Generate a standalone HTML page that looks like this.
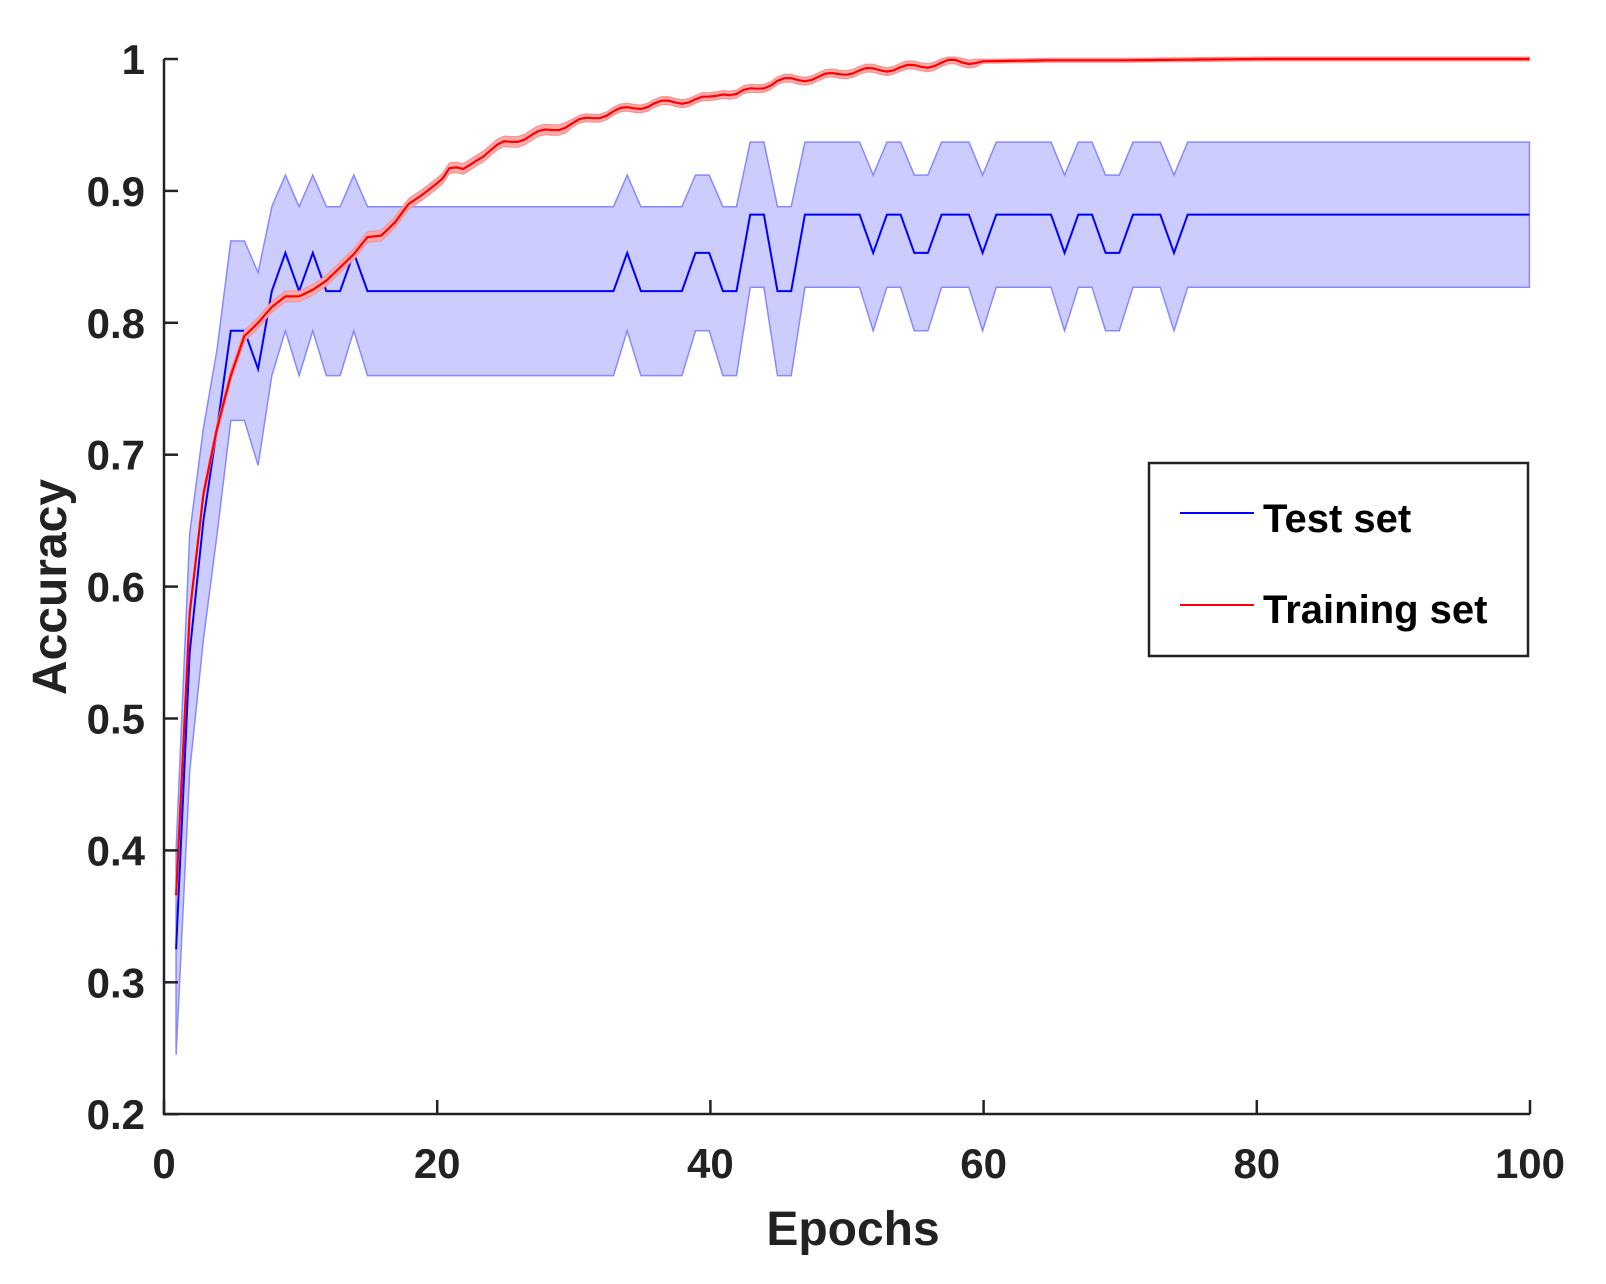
<!DOCTYPE html>
<html><head><meta charset="utf-8">
<style>
html,body{margin:0;padding:0;background:#fff;}
svg text{font-family:"Liberation Sans",Arial,sans-serif;font-weight:bold;fill:#222;}
</style></head>
<body>
<svg id="s" width="1606" height="1279" viewBox="0 0 1606 1279" xmlns="http://www.w3.org/2000/svg">
<rect width="1606" height="1279" fill="#fff"/>
<g id="plot"></g>
<g stroke="#222" stroke-width="2.5" fill="none">
<path d="M164 59 V1114 H1530"/>
</g>
<g id="ticks" stroke="#222" stroke-width="2.5"></g>
<g font-size="42" text-anchor="end" id="yl"></g>
<g font-size="42" text-anchor="middle" id="xl"></g>
<text x="853" y="1245" font-size="48" text-anchor="middle">Epochs</text>
<text transform="translate(66,587) rotate(-90)" font-size="48" text-anchor="middle">Accuracy</text>
<rect x="1149" y="463" width="379" height="193" fill="#fff" stroke="#222" stroke-width="2.5"/>
<line x1="1180" y1="513" x2="1254" y2="513" stroke="#00f" stroke-width="2"/>
<line x1="1180" y1="605" x2="1254" y2="605" stroke="#f00" stroke-width="2"/>
<text x="1263" y="532" font-size="40" style="fill:#000">Test set</text>
<text x="1263" y="623" font-size="40" style="fill:#000">Training set</text>
</svg>
<script>
var X=function(e){return 162.4+e*13.67;}, Y=function(v){return 59+(1-v)*1319;};
var NS="http://www.w3.org/2000/svg";
function el(p,t,a,txt){var e=document.createElementNS(NS,t);for(var k in a)e.setAttribute(k,a[k]);if(txt!=null)e.textContent=txt;document.getElementById(p).appendChild(e);return e;}
for(var i=0;i<=8;i++){var v=0.2+i*0.1,y=Y(v);el("ticks","line",{x1:164,y1:y,x2:178,y2:y});
 el("yl","text",{x:145,y:y+15},(Math.abs(v-1)<1e-6?"1":v.toFixed(1)));}
for(var i=0;i<=5;i++){var x=164+i*273.2;el("ticks","line",{x1:x,y1:1114,x2:x,y2:1100});
 el("xl","text",{x:x,y:1178},String(i*20));}
var a=.882,b=.853,c=.824;
var m=[0.325,0.55,0.65,0.72,0.794,0.794,0.765,0.824,b,c,b,c,c,b];
for(var e=15;e<=33;e++)m.push(c);
m.push(b,c,c,c,c,b,b,c,c,a,a,c,c,a,a,a,a,a,b,a,a,b,b,a,a,a,b,a,a,a,a,a,b,a,a,b,b,a,a,a,b);
while(m.length<100)m.push(a);
var U=[],L=[];
var eu=[0.40,0.64,0.72,0.78],elw=[0.245,0.46,0.56,0.64];
for(var i=0;i<100;i++){var d;
 if(i<4){U.push(eu[i]);L.push(elw[i]);continue;}
 if(m[i]>=0.88)d=0.055;else if(m[i]>0.85)d=0.059;else if(m[i]>0.82)d=0.064;else if(m[i]>0.79)d=0.068;else d=0.073;
 U.push(m[i]+d);L.push(m[i]-d);}
var up="",lo="",mp="";
for(var i=0;i<100;i++){up+=(i?"L":"M")+X(i+1).toFixed(1)+" "+Y(U[i]).toFixed(1);mp+=(i?"L":"M")+X(i+1).toFixed(1)+" "+Y(m[i]).toFixed(1);}
for(var i=99;i>=0;i--)lo+="L"+X(i+1).toFixed(1)+" "+Y(L[i]).toFixed(1);
el("plot","path",{d:up+lo+"Z",fill:"#ccccff",stroke:"#8888ff","stroke-width":1.5});
var k=[[1,.366],[2,.58],[3,.67],[4,.72],[5,.76],[6,.79],[7,.80],[8,.812],[9,.82],[10,.82],[11,.825],[12,.832],[13,.842],[14,.852],[15,.865],[16,.866],[17,.876],[18,.89],[19,.897],[20,.905],[21,.917],[22,.915],[23,.925],[25,.936],[28,.945],[30,.951],[33,.96],[36,.966],[38,.968],[40,.97],[41,.975],[42,.973],[45,.983],[48,.986],[50,.99],[55,.994],[58,.998],[65,.999],[70,.999],[80,1.0],[100,1.0]];
function tr(e){for(var j=0;j<k.length-1;j++){if(e<=k[j+1][0]){var t=(e-k[j][0])/(k[j+1][0]-k[j][0]);return k[j][1]+t*(k[j+1][1]-k[j][1]);}}return 1;}
var tp="",tu="",tl="";var pts=[];
for(var e=1;e<=100;e+=0.5){var v=tr(e);if(e>20&&e<60)v+=0.002*Math.sin(e*2.1);pts.push([e,Math.min(v,1)]);}
for(var i=0;i<pts.length;i++){var e=pts[i][0],v=pts[i][1],s=(e<30?0.004:(e<60?0.003:0.0015));
 tp+=(i?"L":"M")+X(e).toFixed(1)+" "+Y(v).toFixed(1);tu+=(i?"L":"M")+X(e).toFixed(1)+" "+Y(Math.min(v+s,1.0015)).toFixed(1);}
for(var i=pts.length-1;i>=0;i--){var e=pts[i][0],v=pts[i][1],s=(e<30?0.004:(e<60?0.003:0.0015));tl+="L"+X(e).toFixed(1)+" "+Y(v-s).toFixed(1);}
el("plot","path",{d:mp,fill:"none",stroke:"#0000ff","stroke-width":2});
el("plot","path",{d:tu+tl+"Z",fill:"#ffaaaa",stroke:"#ff8888","stroke-width":1});
el("plot","path",{d:tp,fill:"none",stroke:"#ff0000","stroke-width":2.2});
</script>
</body></html>
